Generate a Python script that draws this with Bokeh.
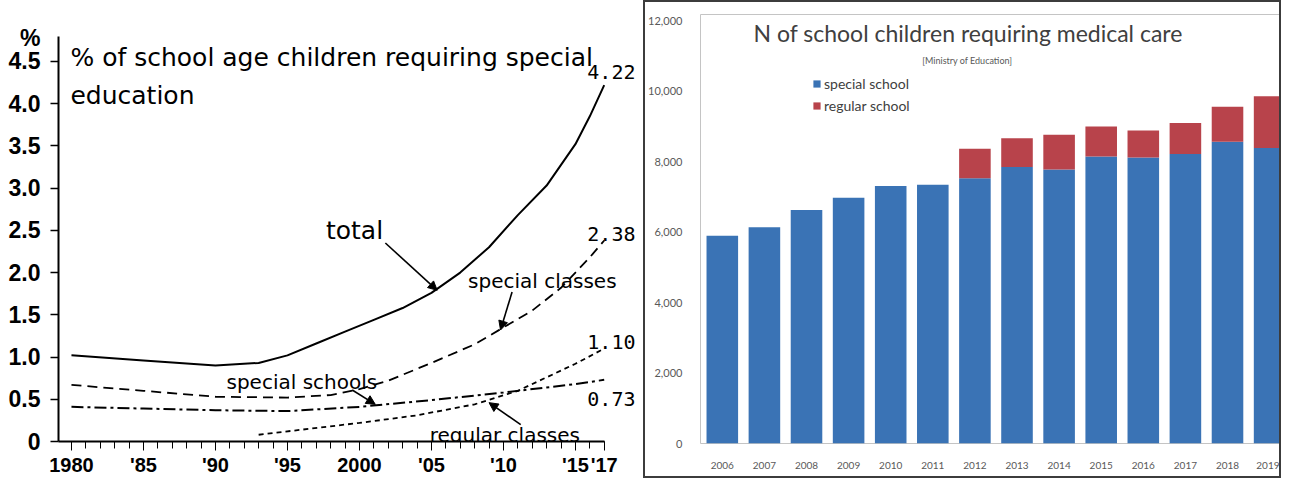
from bokeh.plotting import figure
from bokeh.layouts import row
from bokeh.models import (Range1d, FixedTicker, Label, Arrow, NormalHead, Legend,
                          ColumnDataSource, NumeralTickFormatter)
from bokeh.embed import file_html
from bokeh.resources import INLINE

# ---------------- left chart data (% of school-age children) ----------------
total_years = [1980, 1985, 1990, 1993, 1995, 1997, 1999, 2001, 2003, 2005, 2007, 2009, 2011, 2013, 2015, 2016, 2017]
total_vals = [1.02, 0.96, 0.90, 0.93, 1.02, 1.16, 1.30, 1.44, 1.58, 1.76, 2.00, 2.30, 2.68, 3.03, 3.52, 3.85, 4.22]

spcls_years = [1980, 1985, 1990, 1995, 1998, 2000, 2002, 2005, 2008, 2010, 2012, 2014, 2016, 2017]
spcls_vals = [0.67, 0.60, 0.53, 0.52, 0.55, 0.62, 0.72, 0.93, 1.15, 1.35, 1.55, 1.82, 2.18, 2.38]

spsch_years = [1980, 1985, 1990, 1995, 2000, 2005, 2010, 2015, 2017]
spsch_vals = [0.41, 0.39, 0.37, 0.36, 0.41, 0.49, 0.58, 0.68, 0.73]

reg_years = [1993, 1996, 2000, 2004, 2008, 2011, 2013, 2015, 2017]
reg_vals = [0.08, 0.14, 0.22, 0.31, 0.44, 0.60, 0.76, 0.92, 1.10]

y_ticks = [0, 0.5, 1.0, 1.5, 2.0, 2.5, 3.0, 3.5, 4.0, 4.5]
y_tick_labels = ["0", "0.5", "1.0", "1.5", "2.0", "2.5", "3.0", "3.5", "4.0", "4.5"]
y_unit_pos = 4.78          # where the "%" unit sits, above the top tick
y_unit_label = "%"
x_ticks = [1980, 1985, 1990, 1995, 2000, 2005, 2010, 2015, 2017]
x_tick_labels = ["1980", "'85", "'90", "'95", "2000", "'05", "'10", "'15", "'17"]

# ---------------- right chart data (N of school children requiring medical care) ----------------
bar_years = [2006, 2007, 2008, 2009, 2010, 2011, 2012, 2013, 2014, 2015, 2016, 2017, 2018, 2019]
special_school = [5900, 6140, 6630, 6980, 7310, 7350, 7530, 7850, 7780, 8150, 8120, 8220, 8570, 8390]
regular_school = [0, 0, 0, 0, 0, 0, 840, 820, 990, 850, 770, 880, 990, 1470]
bar_y_ticks = [0, 2000, 4000, 6000, 8000, 10000, 12000]

TICKF = "Liberation Sans"
TF = "DejaVu Sans"
MONO = "DejaVu Sans Mono"

# ================= LEFT =================
left = figure(width=643, height=478, output_backend="svg", toolbar_location=None,
              x_range=Range1d(1979.1, 2019.52), y_range=Range1d(0, 5.079),
              min_border_left=58, min_border_right=3, min_border_top=12, min_border_bottom=36)
left.outline_line_color = None
left.grid.visible = False

left.line(total_years, total_vals, line_color="black", line_width=2)
left.line(spcls_years, spcls_vals, line_color="black", line_width=1.8, line_dash="10 6")
left.line(spsch_years, spsch_vals, line_color="black", line_width=2, line_dash="12 4 3 4")
left.line(reg_years, reg_vals, line_color="black", line_width=1.8, line_dash="5 4")

ya = left.yaxis[0]
# labelled positions (incl. the "%" unit) as major ticks without marks;
# the visible tick marks are drawn as minor ticks at the numeric positions
ya.ticker = FixedTicker(ticks=y_ticks + [y_unit_pos], minor_ticks=y_ticks)
overrides = {t: l for t, l in zip(y_ticks, y_tick_labels)}
overrides[y_unit_pos] = y_unit_label
ya.major_label_overrides = overrides
ya.bounds = (0, 4.79)
ya.axis_line_width = 2
ya.axis_line_color = "black"
ya.major_tick_line_color = None
ya.major_tick_out = 8
ya.major_tick_in = 0
ya.minor_tick_line_color = "black"
ya.minor_tick_out = 8
ya.minor_tick_in = 0
ya.minor_tick_line_width = 1.5
ya.major_label_standoff = 10
ya.major_label_text_font = TICKF
ya.major_label_text_font_style = "bold"
ya.major_label_text_font_size = "23px"
ya.major_label_text_color = "black"

xa = left.xaxis[0]
xa.ticker = FixedTicker(ticks=x_ticks, minor_ticks=list(range(1980, 2018)))
xa.major_label_overrides = {t: l for t, l in zip(x_ticks, x_tick_labels)}
xa.bounds = (1979.1, 2017)
xa.axis_line_width = 2
xa.axis_line_color = "black"
xa.major_tick_out = 9
xa.major_tick_in = 0
xa.major_tick_line_color = "black"
xa.minor_tick_out = 7
xa.minor_tick_in = 0
xa.minor_tick_line_color = "black"
xa.major_label_standoff = 3
xa.major_label_text_font = TICKF
xa.major_label_text_font_style = "bold"
xa.major_label_text_font_size = "20px"
xa.major_label_text_color = "black"


def lab(x, y, text, size, font=TF, align="left", baseline="middle", style="normal"):
    left.add_layout(Label(x=x, y=y, text=text, text_font=font, text_font_size=size,
                          text_align=align, text_baseline=baseline, text_color="black",
                          text_font_style=style))


lab(1979.93, 4.545, "% of school age children requiring special", "25px", baseline="alphabetic")
lab(1979.93, 4.10, "education", "25px", baseline="alphabetic")
lab(1999.66, 2.50, "total", "25px", align="center")
lab(2019.17, 4.37, "4.22", "20px", font=MONO, align="right")
lab(2019.17, 2.46, "2.38", "20px", font=MONO, align="right")
lab(2019.17, 1.18, "1.10", "20px", font=MONO, align="right")
lab(2019.17, 0.50, "0.73", "20px", font=MONO, align="right")
lab(2012.7, 1.90, "special classes", "20px", align="center")
lab(1996.0, 0.71, "special schools", "20px", align="center")
lab(2010.1, 0.08, "regular classes", "20px", align="center")


def arr(x0, y0, x1, y1):
    left.add_layout(Arrow(end=NormalHead(size=9, fill_color="black", line_color="black"),
                          x_start=x0, y_start=y0, x_end=x1, y_end=y1,
                          line_color="black", line_width=1.6))


arr(2001.8, 2.35, 2005.4, 1.79)
arr(2010.6, 1.77, 2009.8, 1.32)
arr(1999.5, 0.61, 2001.1, 0.44)
arr(2011.2, 0.20, 2009.0, 0.46)

# ================= RIGHT =================
BLUE = "#3a73b5"
RED = "#b8434b"
src = ColumnDataSource(dict(year=bar_years, special=special_school, regular=regular_school))

right = figure(width=638, height=478, output_backend="svg", toolbar_location=None,
               x_range=Range1d(2005.482, 2019.33), y_range=Range1d(0, 12181),
               min_border_left=50, min_border_right=0, min_border_top=12, min_border_bottom=36,
               styles={"border": "2px solid #3c3c3c"})
right.grid.visible = False
right.outline_line_color = "#c4c4c4"
right.outline_line_width = 1

rs = right.vbar_stack(["special", "regular"], x="year", width=0.75, color=[BLUE, RED],
                      line_color=None, source=src)

ry = right.yaxis[0]
ry.ticker = FixedTicker(ticks=bar_y_ticks)
ry.formatter = NumeralTickFormatter(format="0,0")
ry.axis_line_color = None
ry.major_tick_line_color = None
ry.minor_tick_line_color = None
ry.major_label_standoff = 12
ry.major_label_text_font = "Lato"
ry.major_label_text_font_size = "11px"
ry.major_label_text_color = "#595959"

rx = right.xaxis[0]
rx.ticker = FixedTicker(ticks=bar_years)
rx.axis_line_color = None
rx.major_tick_line_color = None
rx.minor_tick_line_color = None
rx.major_label_standoff = 12
rx.major_label_text_font = "Lato"
rx.major_label_text_font_size = "10px"
rx.major_label_text_color = "#595959"

right.add_layout(Label(x=2011.84, y=11643, text="N of school children requiring medical care",
                       text_font="Lato", text_font_size="23px", text_color="#404040",
                       text_align="center", text_baseline="middle"))
right.add_layout(Label(x=2011.82, y=10878, text="[Ministry of Education]",
                       text_font="Lato", text_font_size="9px", text_color="#595959",
                       text_align="center", text_baseline="middle"))

legend = Legend(items=[("special school", [rs[0]]), ("regular school", [rs[1]])],
                location=(112, 328), orientation="vertical",
                glyph_width=9, glyph_height=9, label_height=20, spacing=2,
                label_standoff=3, padding=0, margin=0,
                label_text_font="Lato", label_text_font_size="14px", label_text_color="#404040",
                background_fill_alpha=0, border_line_color=None)
right.add_layout(legend)

layout = row(left, right)
open("out.html", "w").write(file_html(layout, INLINE))
